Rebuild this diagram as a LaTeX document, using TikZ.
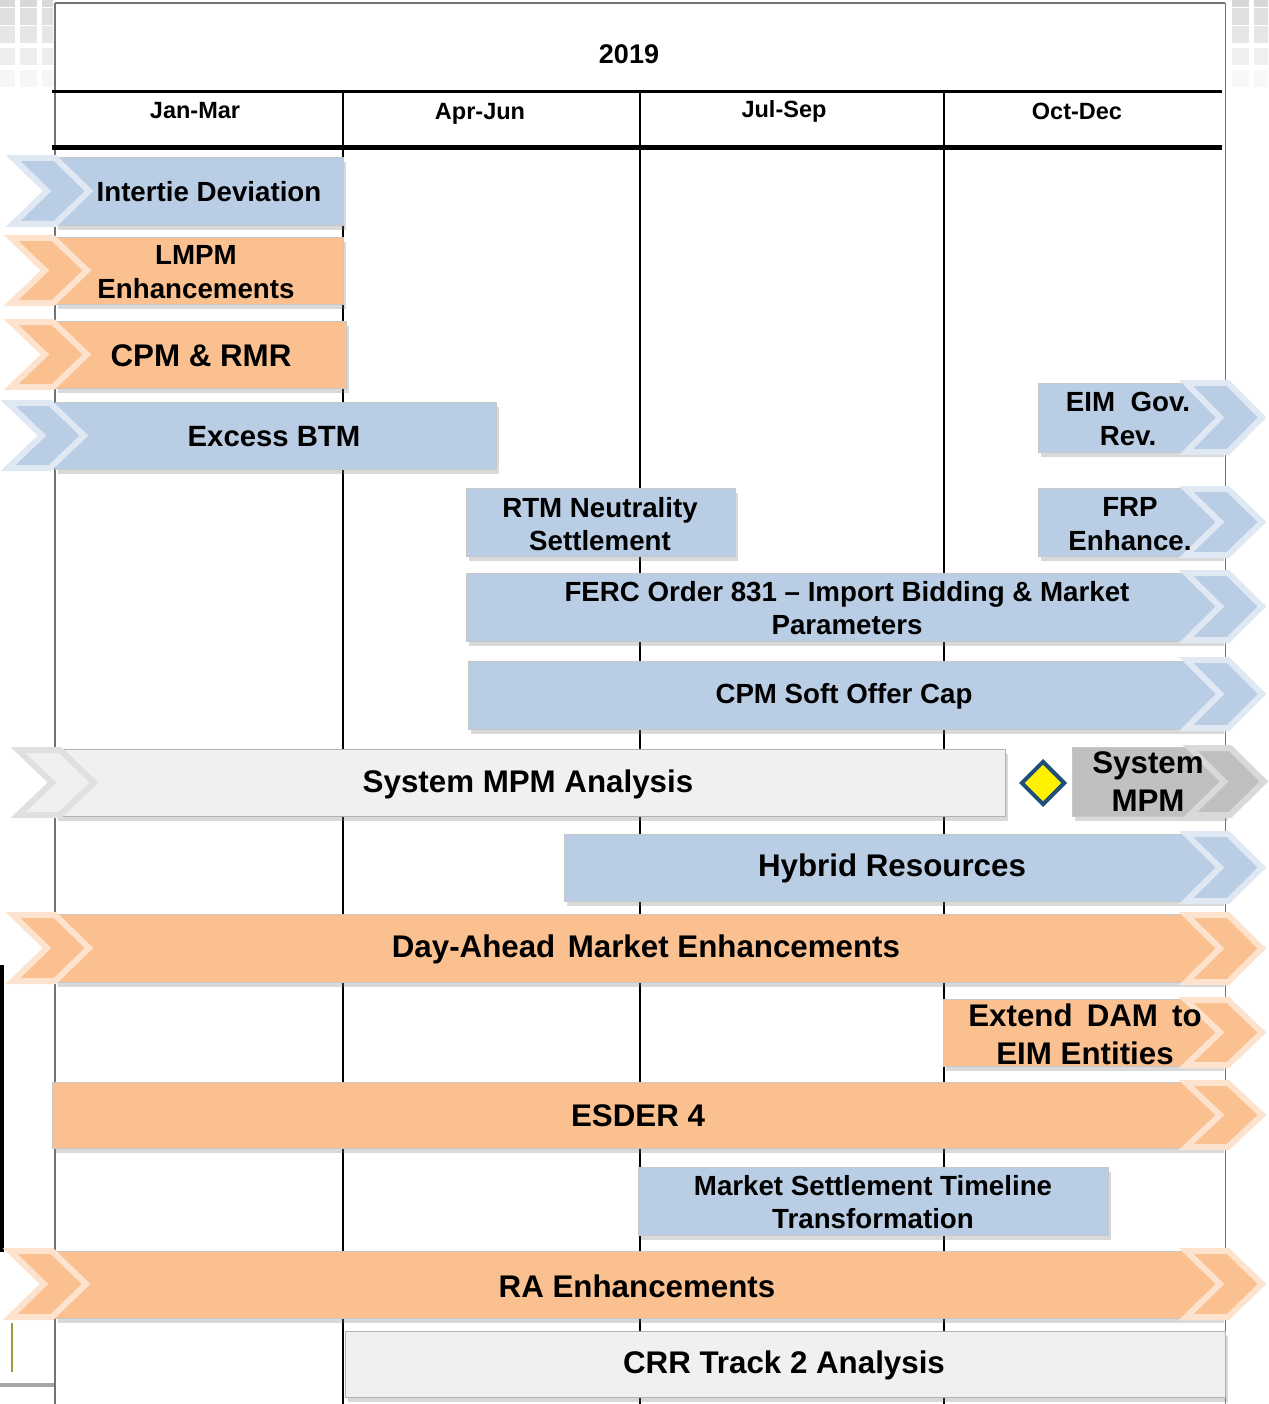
\documentclass[tikz,border=0pt]{standalone}
\usepackage{fontspec}
\setmainfont{Liberation Sans}
\usetikzlibrary{shadows,shapes.geometric}
\definecolor{bblue}{HTML}{B9CDE5}
\definecolor{borange}{HTML}{FAC090}
\definecolor{lgray}{HTML}{F0F0F0}
\definecolor{mgray}{HTML}{C0C0C0}
\definecolor{dblue}{HTML}{1F4E79}
\definecolor{olive}{HTML}{9B9B3C}
\tikzset{
  barbox/.style={fill=#1, draw=black!22, line width=0.8pt,
    drop shadow={shadow xshift=3pt, shadow yshift=-5pt, opacity=0.3}},
  chevbox/.style={fill=#1, draw=#1!45!white, line width=6pt, line join=miter},
  lbl/.style={font=\bfseries\fontsize{27.7}{33.5}\selectfont, align=center, inner sep=0pt},
  midlbl/.style={font=\bfseries\fontsize{29.3}{35}\selectfont, align=center, inner sep=0pt},
  biglbl/.style={font=\bfseries\fontsize{31.3}{38}\selectfont, align=center, inner sep=0pt},
  hdr/.style={font=\bfseries\fontsize{23.5}{28}\selectfont, inner sep=0pt},
  gridline/.style={line width=2.5pt, black},
  frameline/.style={line width=1.2pt, black!55},
}
\newcommand\lchev[4]{%
  \path[chevbox=#4] ({#1+3},{#2+3}) -- ({#1+45},{#2+3}) -- ({#1+79},{(#2+#3)/2})
    -- ({#1+45},{#3-3}) -- ({#1+3},{#3-3}) -- ({#1+37},{(#2+#3)/2}) -- cycle;}
\newcommand\barrect[5]{\path[barbox=#5] (#1,#2) rectangle (#3,#4);}
\begin{document}
\begin{tikzpicture}[x=1pt,y=-1pt]
\useasboundingbox (0,0) rectangle (1268,1404);
% slide decoration
\begin{scope}
\clip (0,0) rectangle (53,92);
\foreach \y/\o in {-10/0.55, 8/0.45, 26/0.35, 48/0.25, 70/0.13}{
  \foreach \x in {-2,20,42}{\fill[black!28, opacity=\o] (\x,\y) rectangle ++(17,17);}}
\end{scope}
\begin{scope}
\clip (1228,0) rectangle (1268,92);
\foreach \y/\o in {-10/0.55, 8/0.45, 26/0.35, 48/0.22, 70/0.1}{
  \foreach \x in {1232,1254}{\fill[black!28, opacity=\o] (\x,\y) rectangle ++(17,17);}}
\end{scope}
\fill[black] (0,965) rectangle (4,1252);
\draw[olive, line width=2pt] (12,1323) -- (12,1372);
\fill[black!35] (0,1383) rectangle (55,1387);
% table frame
\draw[frameline] (55,3) -- (1225,3);
\draw[frameline] (55,3) -- (55,1404);
\draw[frameline, line width=0.8pt] (1225,3) -- (1225,1404);
\draw[line width=3pt] (52,92) -- (1222,92);
\draw[line width=5pt] (52,148) -- (1222,148);
\foreach \x in {343,640,944}{\draw[gridline] (\x,92) -- (\x,1404);}
\node[hdr, font=\bfseries\fontsize{27}{30}\selectfont] (y2019) at (629,54) {2019};
\node[hdr] (q1) at (195,111) {Jan-Mar};
\node[hdr] (q2) at (480,114) {Apr-Jun};
\node[hdr] (q3) at (784,111) {Jul-Sep};
\node[hdr] (q4) at (1077,111) {Oct-Dec};
% bars
\barrect{55}{157}{343}{225}{bblue}\lchev{10}{155}{227}{bblue}
\node[lbl] (t1) at (209,192) {Intertie Deviation};
\barrect{55}{237}{343}{304}{borange}\lchev{8}{235}{306}{borange}
\node[lbl] (t2) at (196,272) {LMPM\\Enhancements};
\barrect{55}{321}{346}{388}{borange}\lchev{8}{319}{390}{borange}
\node[biglbl] (t3) at (201,356) {CPM \& RMR};
\barrect{55}{402}{496}{469}{bblue}\lchev{5}{400}{471}{bblue}
\node[midlbl] (t4) at (274,437) {Excess BTM};
\barrect{1038}{383}{1221}{452}{bblue}\lchev{1183}{380}{455}{bblue}
\node[lbl] (t5) at (1128,419) {EIM\ \ Gov.\\Rev.};
\barrect{466}{488}{735}{556}{bblue}
\node[lbl] (t6) at (600,524) {RTM Neutrality\\Settlement};
\barrect{1038}{488}{1221}{556}{bblue}\lchev{1183}{486}{558}{bblue}
\node[lbl] (t7) at (1130,524) {FRP\\Enhance.};
\barrect{466}{573}{1221}{641}{bblue}\lchev{1183}{570}{643}{bblue}
\node[lbl] (t8) at (847,608) {FERC Order 831 -- Import Bidding \& Market\\Parameters};
\barrect{468}{661}{1221}{729}{bblue}\lchev{1183}{657}{731}{bblue}
\node[lbl] (t9) at (844,696) {CPM Soft Offer Cap};
\path[barbox=lgray, draw=black!30] (55,749) rectangle (1005,816);
\path[fill=lgray, draw=black!12, line width=6pt, line join=miter] (18,750) -- (60,750) -- (94,782.5) -- (60,815) -- (18,815) -- (52,782.5) -- cycle;
\node[biglbl] (t10) at (528,784) {System MPM Analysis};
\node[diamond, draw=dblue, line width=4pt, fill=yellow, minimum width=44pt, minimum height=44pt, inner sep=0pt] (ms) at (1043,783) {};
\barrect{1072}{747}{1225}{816}{mgray}
\path[fill=mgray, draw=black!15, line width=6pt, line join=miter] (1190,748) -- (1230,748) -- (1264,781.5) -- (1230,815) -- (1190,815) -- (1224,781.5) -- cycle;
\node[biglbl] (t12) at (1148,782) {System\\MPM};
\barrect{564}{834}{1221}{901}{bblue}\lchev{1183}{831}{904}{bblue}
\node[biglbl] (t13) at (892,868) {Hybrid Resources};
\barrect{55}{914}{1221}{982}{borange}\lchev{10}{912}{984}{borange}\lchev{1183}{912}{985}{borange}
\node[biglbl] (t14) at (646,949) {Day-Ahead\hspace{0.4em}Market Enhancements};
\barrect{943}{999}{1221}{1066}{borange}\lchev{1183}{997}{1068}{borange}
\node[biglbl] (t15) at (1085,1034) {Extend\hspace{0.45em}DAM\hspace{0.45em}to\\EIM Entities};
\barrect{52}{1082}{1221}{1148}{borange}\lchev{1183}{1080}{1150}{borange}
\node[biglbl] (t16) at (638,1116) {ESDER\ 4};
\barrect{638}{1167}{1108}{1235}{bblue}
\node[lbl] (t17) at (873,1202) {Market Settlement Timeline\\Transformation};
\barrect{55}{1251}{1221}{1318}{borange}\lchev{7}{1248}{1320}{borange}\lchev{1183}{1248}{1320}{borange}
\node[biglbl] (t18) at (637,1286) {RA Enhancements};
\path[barbox=lgray, draw=black!30] (345,1331) rectangle (1225,1397);
\node[biglbl] (t19) at (784,1365) {CRR Track 2 Analysis};
\end{tikzpicture}
\end{document}
